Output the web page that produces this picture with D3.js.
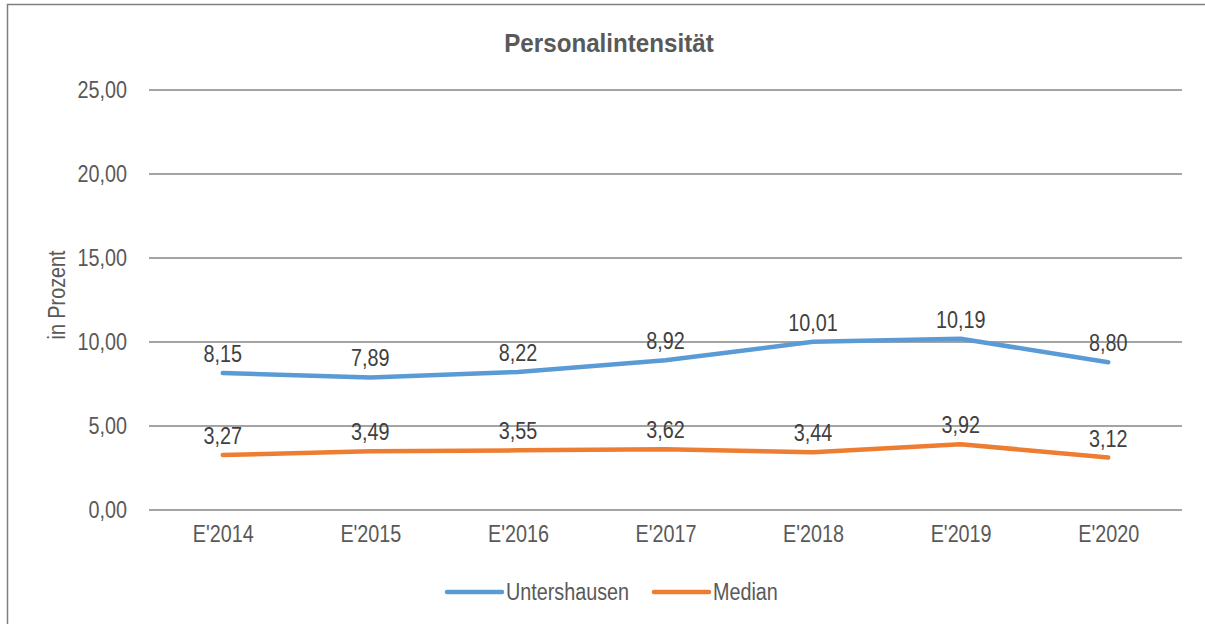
<!DOCTYPE html>
<html>
<head>
<meta charset="utf-8">
<script src="https://cdn.jsdelivr.net/npm/d3@7"></script>
<style>
  body { margin: 0; background: #fff; }
  svg text { font-family: "Liberation Sans", Arial, sans-serif; }
</style>
</head>
<body>
<div id="chart"></div>
<script>
const years = ["E'2014", "E'2015", "E'2016", "E'2017", "E'2018", "E'2019", "E'2020"];
const untershausen = [8.15, 7.89, 8.22, 8.92, 10.01, 10.19, 8.80];
const median = [3.27, 3.49, 3.55, 3.62, 3.44, 3.92, 3.12];
const yTicks = [0, 5, 10, 15, 20, 25];

const series = [
  { name: 'Untershausen', values: untershausen, color: '#5b9bd5' },
  { name: 'Median', values: median, color: '#ed7d31' }
];

const width = 1205, height = 624;
const narrow = 0.86; // the original uses a condensed face
const fmt = v => d3.format('.2f')(v).replace('.', ',');

// place a text at (px, py) squeezed horizontally
const squeeze = (px, py, k = narrow) => `translate(${px},${py}) scale(${k},1)`;

const svg = d3.select('#chart').append('svg')
  .attr('width', width)
  .attr('height', height);

// chart border (right and bottom edges fall outside the picture)
svg.append('rect')
  .attr('x', 7.5).attr('y', 4.5)
  .attr('width', 1220).attr('height', 640)
  .attr('fill', 'none').attr('stroke', '#7f7f7f').attr('stroke-width', 1.5);

const x = d3.scalePoint().domain(years).range([149, 1182]).padding(0.5);
const y = d3.scaleLinear().domain([0, 25]).range([510, 90]);

// gridlines
svg.append('g').selectAll('line')
  .data(yTicks).enter().append('line')
  .attr('x1', 149).attr('x2', 1182)
  .attr('y1', d => y(d)).attr('y2', d => y(d))
  .attr('stroke', '#868686').attr('stroke-width', 1.5);

const yAxis = svg.append('g')
  .attr('transform', 'translate(149,0)')
  .call(d3.axisLeft(y).tickValues(yTicks).tickFormat(fmt).tickSize(0).tickPadding(22));
yAxis.select('.domain').remove();
yAxis.selectAll('text')
  .attr('x', -22 / narrow)
  .attr('transform', `scale(${narrow},1)`)
  .attr('font-size', 23).attr('fill', '#595959');

const xAxis = svg.append('g')
  .attr('transform', 'translate(0,510)')
  .call(d3.axisBottom(x).tickSize(0).tickPadding(16));
xAxis.select('.domain').remove();
xAxis.selectAll('text')
  .attr('transform', `scale(${narrow},1)`)
  .attr('font-size', 23).attr('fill', '#595959');

// title
svg.append('text')
  .attr('transform', squeeze(609, 52, 0.93))
  .attr('text-anchor', 'middle')
  .attr('font-size', 26).attr('font-weight', 'bold')
  .attr('fill', '#595959')
  .text('Personalintensität');

// y label
svg.append('text')
  .attr('transform', 'translate(65,295) rotate(-90) scale(' + narrow + ',1)')
  .attr('text-anchor', 'middle')
  .attr('font-size', 23).attr('fill', '#595959')
  .text('in Prozent');

const line = d3.line().x((d, i) => x(years[i])).y(d => y(d));

series.forEach(s => {
  svg.append('path')
    .datum(s.values)
    .attr('d', line)
    .attr('fill', 'none')
    .attr('stroke', s.color)
    .attr('stroke-width', 4.5)
    .attr('stroke-linecap', 'round')
    .attr('stroke-linejoin', 'round');

  svg.append('g').selectAll('text')
    .data(s.values).enter().append('text')
    .attr('transform', (d, i) => squeeze(x(years[i]), y(d) - 11))
    .attr('text-anchor', 'middle')
    .attr('font-size', 23).attr('fill', '#404040')
    .text(fmt);
});

// legend
const legendItems = [
  { x: 447, textX: 506 },
  { x: 654, textX: 713 }
];
series.forEach((s, i) => {
  const g = svg.append('g');
  g.append('line')
    .attr('x1', legendItems[i].x).attr('x2', legendItems[i].x + 55)
    .attr('y1', 592).attr('y2', 592)
    .attr('stroke', s.color).attr('stroke-width', 4.5)
    .attr('stroke-linecap', 'round');
  g.append('text')
    .attr('transform', squeeze(legendItems[i].textX, 600))
    .attr('font-size', 23).attr('fill', '#595959')
    .text(s.name);
});
</script>
</body>
</html>
